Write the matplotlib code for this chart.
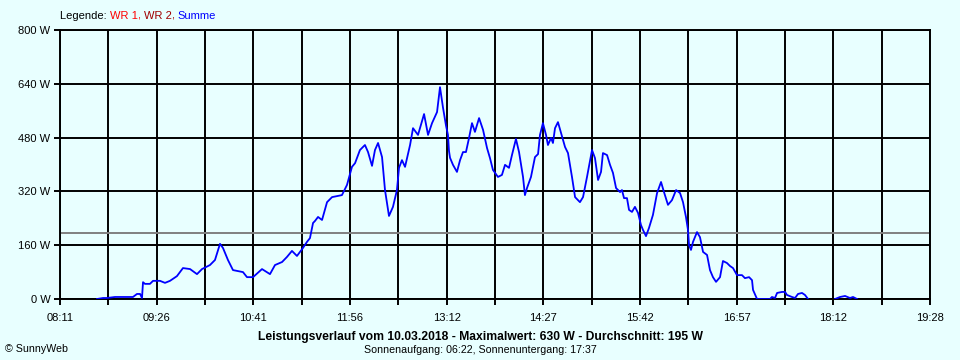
import numpy as np
import matplotlib
matplotlib.use("Agg")
import matplotlib.pyplot as plt

# ---- data (time in minutes since midnight, power in W) ----
times = [519.8, 524.5, 527.6, 533.8, 547.8, 550.9, 553.3, 554.8, 555.6, 557.1,
         561.0, 563.4, 568.8, 572.7, 576.6, 582.0, 586.7, 592.2, 597.6, 601.5,
         607.7, 611.6, 615.5, 617.8, 621.7, 625.6, 633.4, 636.5, 641.2, 648.2,
         654.4, 658.3, 663.8, 667.6, 671.5, 675.4, 680.1, 683.2, 685.5, 687.9,
         689.4, 691.8, 694.9, 698.8, 702.7, 710.4, 714.3, 718.2, 720.6, 724.4,
         728.3, 730.7, 733.8, 736.1, 738.5, 741.6, 743.9, 747.0, 750.1, 753.2,
         754.8, 757.1, 759.5, 763.4, 765.7, 769.6, 774.3, 777.4, 780.5, 784.4,
         786.7, 789.0, 791.4, 792.9, 793.7, 794.5, 796.8, 799.9, 802.3, 804.6,
         806.9, 809.3, 811.6, 813.9, 817.1, 820.2, 823.3, 825.6, 827.9, 831.8,
         834.9, 837.3, 840.4, 842.7, 845.8, 848.2, 851.3, 852.8, 854.4, 857.5,
         860.6, 863.0, 864.5, 866.8, 869.2, 870.7, 873.1, 874.6, 876.2, 878.5,
         880.9, 884.0, 886.3, 889.4, 891.8, 895.6, 898.0, 901.1, 905.0, 907.3,
         909.7, 912.0, 913.5, 916.7, 919.0, 921.3, 923.7, 926.8, 928.3, 929.9,
         932.2, 933.8, 936.1, 938.4, 940.8, 943.1, 944.7, 947.0, 949.3, 952.4,
         955.6, 958.7, 961.0, 964.1, 967.2, 970.4, 973.5, 975.8, 978.1, 979.7,
         980.5, 982.0, 983.6, 986.7, 989.0, 991.4, 994.5, 996.8, 999.1, 1001.5,
         1004.6, 1006.9, 1010.0, 1012.4, 1014.7, 1017.8, 1021.7, 1024.0, 1027.2, 1029.5,
         1030.3, 1033.4, 1043.5, 1045.0, 1047.4, 1049.0, 1052.8, 1055.2, 1056.7, 1060.6,
         1063.0, 1065.3, 1068.4, 1070.7, 1073.1, 1083.0, 1094.1, 1098.0, 1101.9, 1105.7,
         1108.1, 1111.2]
summe = [0, 3, 3, 6, 6, 15, 15, 3, 50, 45,
         45, 54, 54, 48, 54, 68, 92, 89, 74, 89,
         101, 116, 164, 152, 116, 86, 80, 65, 65, 89,
         74, 101, 110, 125, 143, 128, 152, 170, 181, 226,
         232, 244, 235, 288, 303, 309, 339, 393, 404, 443,
         458, 437, 396, 443, 464, 422, 324, 247, 274, 324,
         390, 413, 393, 458, 508, 488, 550, 488, 523, 556,
         630, 570, 515, 488, 440, 420, 399, 378, 413, 437,
         437, 479, 523, 497, 538, 503, 449, 419, 384, 363,
         369, 399, 390, 428, 476, 437, 363, 309, 330, 363,
         422, 431, 488, 523, 488, 458, 479, 464, 508, 526,
         494, 452, 434, 363, 303, 288, 303, 363, 443, 419,
         354, 378, 434, 428, 399, 375, 330, 318, 324, 300,
         300, 265, 259, 274, 256, 220, 205, 187, 211, 250,
         315, 348, 318, 280, 294, 324, 315, 288, 244, 205,
         160, 146, 170, 199, 184, 140, 131, 86, 65, 51,
         65, 113, 107, 98, 92, 71, 71, 62, 65, 56,
         27, 0, 0, 6, 3, 18, 21, 21, 12, 6,
         3, 15, 18, 12, 0, np.nan, 0, 6, 9, 3,
         6, 0]
average = 195
maximum = 630
x_labels = ["08:11", "09:26", "10:41", "11:56", "13:12", "14:27", "15:42", "16:57", "18:12", "19:28"]
y_ticks = [0, 160, 320, 480, 640, 800]
x_start, x_end = 491, 1168

bg = "#E8FFFF"
fig = plt.figure(figsize=(9.6, 3.6), dpi=100, facecolor=bg)
ax = fig.add_axes([60/960, 1-299/360, 870/960, 269/360])
ax.set_facecolor(bg)

minor = np.linspace(x_start, x_end, 2*len(x_labels)-1)

for xv in minor:
    ax.axvline(xv, color="black", lw=1.4, zorder=1)
for yv in y_ticks:
    ax.axhline(yv, color="black", lw=1.4, zorder=1)
ax.axhline(average, color="#808080", lw=1.4, zorder=2)

ax.plot(times, summe, color="#0000FF", lw=1.3, zorder=3)

ax.set_xlim(x_start, x_end)
ax.set_ylim(0, 800)
ax.set_xticks(minor)
ax.set_xticklabels([x_labels[j // 2] if j % 2 == 0 else "" for j in range(len(minor))])
ax.set_yticks(y_ticks)
ax.set_yticklabels([f"{v} W" for v in y_ticks])
ax.tick_params(axis="both", direction="out", length=4, width=1.4, color="black",
               labelsize=8, pad=3)
ax.tick_params(axis="x", pad=6)
for s in ax.spines.values():
    s.set_color("black")
    s.set_linewidth(1.4)
for lbl in ax.get_xticklabels() + ax.get_yticklabels():
    lbl.set_family("Liberation Sans")

# legend text (multi-coloured)
fig.canvas.draw()
renderer = fig.canvas.get_renderer()
parts = [("Legende: ", "black"), ("WR 1", "#FF0000"), (", ", "#FF0000"),
         ("WR 2", "#A00000"), (", ", "#A00000"), ("Summe", "#0000FF")]
xpos = 60
for txt, col in parts:
    t = fig.text(xpos/960, 1-16/360, txt, color=col, fontsize=8,
                 family="Liberation Sans", va="center", ha="left")
    bb = t.get_window_extent(renderer=renderer)
    xpos += bb.width

fig.text(480/960, 1-337/360,
         f"Leistungsverlauf vom 10.03.2018 - Maximalwert: {maximum} W - Durchschnitt: {average} W",
         ha="center", va="center", fontsize=8.7, fontweight="bold", family="Liberation Sans")
fig.text(480/960, 1-350/360, "Sonnenaufgang: 06:22, Sonnenuntergang: 17:37",
         ha="center", va="center", fontsize=7.7, family="Liberation Sans")
fig.text(5/960, 1-349/360, "© SunnyWeb", ha="left", va="center", fontsize=7.7,
         family="Liberation Sans")

fig.savefig("out.png", dpi=100, facecolor=bg)
